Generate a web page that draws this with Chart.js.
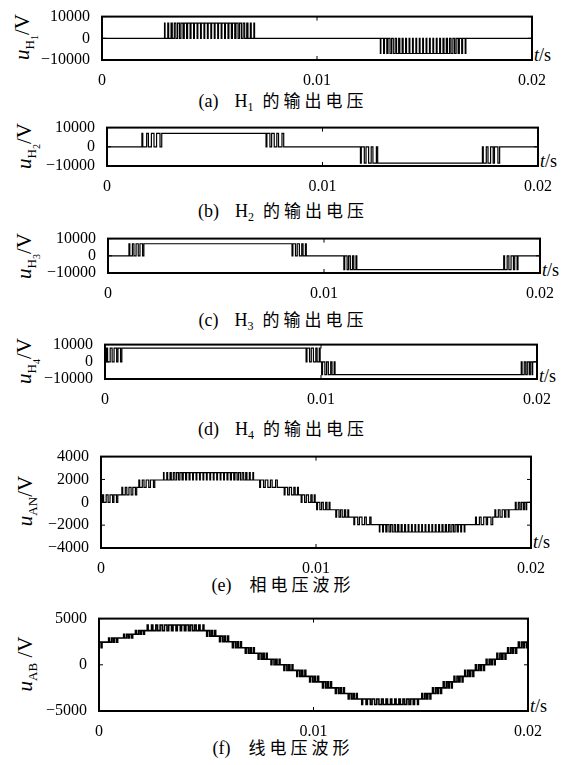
<!DOCTYPE html>
<html>
<head>
<meta charset="utf-8">
<script src="https://cdn.jsdelivr.net/npm/chart.js@4.4.0/dist/chart.umd.min.js"></script>
<style>
  body { margin: 0; background: #fff; }
  #page { position: relative; width: 564px; height: 765px; overflow: hidden; font-family: 'Liberation Serif', 'Times New Roman', Tinos, 'DejaVu Serif', serif; color: #000; }
  #page canvas { position: absolute; left: 0; }
  .ylab { position: absolute; transform: translate(-50%, -50%) rotate(-90deg); white-space: nowrap; font-size: 21px; }
  .ylab sub { font-size: 13px; }
  .ylab sub sub { font-size: 10px; }
  .tlab { position: absolute; font-size: 18px; white-space: nowrap; }
  .cap { position: absolute; left: 0; width: 566px; text-align: center; font-size: 18px; transform: translateY(-50%); white-space: nowrap; }
  .cap .zh { font-family: 'Noto Sans CJK SC', sans-serif; font-size: 17px; letter-spacing: 4px; margin-left: 9px; }
  .cap .h { margin-left: 16px; }
  .cap sub { font-size: 12px; }
</style>
</head>
<body>
<div id="page">
  <div class="ylab" style="left:25px;top:37px"><i>u</i><sub>H<sub>1</sub></sub>/V</div>
  <div class="ylab" style="left:27px;top:146px"><i>u</i><sub>H<sub>2</sub></sub>/V</div>
  <div class="ylab" style="left:27px;top:256px"><i>u</i><sub>H<sub>3</sub></sub>/V</div>
  <div class="ylab" style="left:27px;top:361px"><i>u</i><sub>H<sub>4</sub></sub>/V</div>
  <div class="ylab" style="left:27px;top:501px"><i>u</i><sub>AN</sub>/V</div>
  <div class="ylab" style="left:27px;top:664px"><i>u</i><sub>AB</sub> /V</div>

  <div class="tlab" style="left:534px;top:45px"><i>t</i>/s</div>
  <div class="tlab" style="left:540px;top:151px"><i>t</i>/s</div>
  <div class="tlab" style="left:542px;top:260px"><i>t</i>/s</div>
  <div class="tlab" style="left:539px;top:366px"><i>t</i>/s</div>
  <div class="tlab" style="left:533px;top:532px"><i>t</i>/s</div>
  <div class="tlab" style="left:530px;top:696px"><i>t</i>/s</div>

  <div class="cap" style="top:101px">(a)<span class="h">H<sub>1</sub></span><span class="zh">的输出电压</span></div>
  <div class="cap" style="top:211px">(b)<span class="h">H<sub>2</sub></span><span class="zh">的输出电压</span></div>
  <div class="cap" style="top:320px">(c)<span class="h">H<sub>3</sub></span><span class="zh">的输出电压</span></div>
  <div class="cap" style="top:429px">(d)<span class="h">H<sub>4</sub></span><span class="zh">的输出电压</span></div>
  <div class="cap" style="top:583px">(e)<span class="zh" style="margin-left:18px">相电压波形</span></div>
  <div class="cap" style="top:746px">(f)<span class="zh" style="margin-left:18px">线电压波形</span></div>
</div>
<script>
// time axis (s) and tick labels
const xTicks = [0, 0.01, 0.02];
const xTickLabels = ['0', '0.01', '0.02'];

const hTicks = [-10000, 0, 10000];
const hTickLabels = ['\u221210000', '0', '10000'];
const anTicks = [-4000, -2000, 0, 2000, 4000];
const anTickLabels = ['\u22124000', '\u22122000', '0', '2000', '4000'];
const abTicks = [-5000, 0, 5000];
const abTickLabels = ['\u22125000', '0', '5000'];

// H1 output voltage: switching instants (ms) and levels (V)
const h1Time = [0,
  2.908, 2.932, 3.060, 3.100, 3.212, 3.268, 3.364, 3.436, 3.516, 3.604,
  3.670, 3.769, 3.826, 3.935, 3.982, 4.097, 4.140, 4.260, 4.298, 4.423,
  4.458, 4.583, 4.618, 4.743, 4.778, 4.903, 4.938, 5.063, 5.098, 5.223,
  5.258, 5.383, 5.418, 5.543, 5.578, 5.703, 5.740, 5.860, 5.902, 6.017,
  6.066, 6.175, 6.230, 6.329, 6.396, 6.484, 6.564, 6.636, 6.732, 6.788,
  6.900, 6.940, 7.064, 7.096,
  12.947, 12.971, 13.097, 13.137, 13.247, 13.302, 13.397, 13.468, 13.548, 13.635,
  13.700, 13.798, 13.853, 13.960, 14.008, 14.122, 14.164, 14.283, 14.319, 14.442,
  14.477, 14.600, 14.635, 14.758, 14.793, 14.916, 14.951, 15.074, 15.109, 15.232,
  15.267, 15.390, 15.425, 15.548, 15.586, 15.705, 15.746, 15.860, 15.907, 16.014,
  16.070, 16.168, 16.234, 16.321, 16.399, 16.470, 16.565, 16.620, 16.731, 16.771,
  16.893, 16.925,
  20];
const h1Volt = [0,
  7000, 0, 7000, 0, 7000, 0, 7000, 0, 7000, 0,
  7000, 0, 7000, 0, 7000, 0, 7000, 0, 7000, 0,
  7000, 0, 7000, 0, 7000, 0, 7000, 0, 7000, 0,
  7000, 0, 7000, 0, 7000, 0, 7000, 0, 7000, 0,
  7000, 0, 7000, 0, 7000, 0, 7000, 0, 7000, 0,
  7000, 0, 7000, 0,
  -7000, 0, -7000, 0, -7000, 0, -7000, 0, -7000, 0,
  -7000, 0, -7000, 0, -7000, 0, -7000, 0, -7000, 0,
  -7000, 0, -7000, 0, -7000, 0, -7000, 0, -7000, 0,
  -7000, 0, -7000, 0, -7000, 0, -7000, 0, -7000, 0,
  -7000, 0, -7000, 0, -7000, 0, -7000, 0, -7000, 0,
  -7000, 0,
  0];

// H2
const h2Time = [0,
  1.62, 1.66, 1.84, 1.92, 2.06, 2.18, 2.30, 2.46, 2.54,
  7.38, 7.42, 7.56, 7.64, 7.76, 7.88, 7.96, 8.12, 8.20,
  11.76, 11.80, 11.94, 12.02, 12.14, 12.26, 12.34, 12.50, 12.56,
  17.42, 17.46, 17.60, 17.68, 17.80, 17.92, 17.98, 18.14, 18.22,
  20];
const h2Volt = [0,
  7000, 0, 7000, 0, 7000, 0, 7000, 0, 7000,
  0, 7000, 0, 7000, 0, 7000, 0, 7000, 0,
  -8500, 0, -8500, 0, -8500, 0, -8500, 0, -8500,
  0, -8500, 0, -8500, 0, -8500, 0, -8500, 0,
  0];

// H3
const h3Time = [0,
  0.97, 1.01, 1.13, 1.20, 1.30, 1.40, 1.48, 1.60, 1.66,
  8.52, 8.56, 8.68, 8.76, 8.86, 8.97, 9.03, 9.14, 9.18,
  10.92, 10.96, 11.07, 11.14, 11.22, 11.32, 11.38, 11.48, 11.52,
  18.32, 18.36, 18.48, 18.56, 18.66, 18.77, 18.83, 18.94, 18.98,
  20];
const h3Volt = [0,
  7000, 0, 7000, 0, 7000, 0, 7000, 0, 7000,
  0, 7000, 0, 7000, 0, 7000, 0, 7000, 0,
  -8000, 0, -8000, 0, -8000, 0, -8000, 0, -8000,
  0, -8000, 0, -8000, 0, -8000, 0, -8000, 0,
  0];

// H4
const h4Time = [0,
  0.07, 0.12, 0.24, 0.33, 0.42, 0.54, 0.60, 0.72, 0.78,
  9.31, 9.35, 9.47, 9.55, 9.65, 9.76, 9.82, 9.92, 9.96,
  10.03, 10.07, 10.18, 10.26, 10.34, 10.45, 10.51, 10.61, 10.65,
  19.27, 19.31, 19.41, 19.48, 19.55, 19.64, 19.69, 19.77, 19.80,
  20];
const h4Volt = [0,
  8000, 0, 8000, 0, 8000, 0, 8000, 0, 8000,
  0, 8000, 0, 8000, 0, 8000, 0, 8000, 0,
  -7500, 0, -7500, 0, -7500, 0, -7500, 0, -7500,
  0, -7500, 0, -7500, 0, -7500, 0, -7500, 0,
  0];

// phase voltage u_AN
const anTime = [0,
  0.07, 0.12, 0.24, 0.33, 0.42, 0.54, 0.60, 0.72, 0.78,
  0.97, 1.01, 1.13, 1.20, 1.30, 1.40, 1.48, 1.60, 1.66,
  1.76, 1.80, 1.92, 2.00, 2.10, 2.22, 2.30, 2.44, 2.50,
  2.908, 2.932, 3.060, 3.100, 3.212, 3.268, 3.364, 3.436, 3.516, 3.604,
  3.670, 3.769, 3.826, 3.935, 3.982, 4.097, 4.140, 4.260, 4.298, 4.423,
  4.458, 4.583, 4.618, 4.743, 4.778, 4.903, 4.938, 5.063, 5.098, 5.223,
  5.258, 5.383, 5.418, 5.543, 5.578, 5.703, 5.740, 5.860, 5.902, 6.017,
  6.066, 6.175, 6.230, 6.329, 6.396, 6.484, 6.564, 6.636, 6.732, 6.788,
  6.900, 6.940, 7.064, 7.096,
  7.38, 7.42, 7.56, 7.64, 7.76, 7.88, 7.96, 8.12, 8.20,
  8.52, 8.56, 8.68, 8.76, 8.86, 8.97, 9.03, 9.14, 9.18,
  9.31, 9.35, 9.47, 9.55, 9.65, 9.76, 9.82, 9.92, 9.96,
  10.03, 10.07, 10.18, 10.26, 10.34, 10.45, 10.51, 10.61, 10.65,
  10.92, 10.96, 11.07, 11.14, 11.22, 11.32, 11.38, 11.48, 11.52,
  11.76, 11.80, 11.94, 12.02, 12.14, 12.26, 12.34, 12.50, 12.56,
  12.947, 12.971, 13.097, 13.137, 13.247, 13.302, 13.397, 13.468, 13.548, 13.635,
  13.700, 13.798, 13.853, 13.960, 14.008, 14.122, 14.164, 14.283, 14.319, 14.442,
  14.477, 14.600, 14.635, 14.758, 14.793, 14.916, 14.951, 15.074, 15.109, 15.232,
  15.267, 15.390, 15.425, 15.548, 15.586, 15.705, 15.746, 15.860, 15.907, 16.014,
  16.070, 16.168, 16.234, 16.321, 16.399, 16.470, 16.565, 16.620, 16.731, 16.771,
  16.893, 16.925,
  17.42, 17.46, 17.60, 17.68, 17.80, 17.92, 17.98, 18.14, 18.22,
  18.32, 18.36, 18.48, 18.56, 18.66, 18.77, 18.83, 18.94, 18.98,
  19.27, 19.31, 19.41, 19.48, 19.55, 19.64, 19.69, 19.77, 19.80,
  20];
const anVolt = [0,
  650, 0, 650, 0, 650, 0, 650, 0, 650,
  1300, 650, 1300, 650, 1300, 650, 1300, 650, 1300,
  1950, 1300, 1950, 1300, 1950, 1300, 1950, 1300, 1950,
  2600, 1950, 2600, 1950, 2600, 1950, 2600, 1950, 2600, 1950,
  2600, 1950, 2600, 1950, 2600, 1950, 2600, 1950, 2600, 1950,
  2600, 1950, 2600, 1950, 2600, 1950, 2600, 1950, 2600, 1950,
  2600, 1950, 2600, 1950, 2600, 1950, 2600, 1950, 2600, 1950,
  2600, 1950, 2600, 1950, 2600, 1950, 2600, 1950, 2600, 1950,
  2600, 1950, 2600, 1950,
  1300, 1950, 1300, 1950, 1300, 1950, 1300, 1950, 1300,
  650, 1300, 650, 1300, 650, 1300, 650, 1300, 650,
  0, 650, 0, 650, 0, 650, 0, 650, 0,
  -650, 0, -650, 0, -650, 0, -650, 0, -650,
  -1300, -650, -1300, -650, -1300, -650, -1300, -650, -1300,
  -1950, -1300, -1950, -1300, -1950, -1300, -1950, -1300, -1950,
  -2600, -1950, -2600, -1950, -2600, -1950, -2600, -1950, -2600, -1950,
  -2600, -1950, -2600, -1950, -2600, -1950, -2600, -1950, -2600, -1950,
  -2600, -1950, -2600, -1950, -2600, -1950, -2600, -1950, -2600, -1950,
  -2600, -1950, -2600, -1950, -2600, -1950, -2600, -1950, -2600, -1950,
  -2600, -1950, -2600, -1950, -2600, -1950, -2600, -1950, -2600, -1950,
  -2600, -1950,
  -1300, -1950, -1300, -1950, -1300, -1950, -1300, -1950, -1300,
  -650, -1300, -650, -1300, -650, -1300, -650, -1300, -650,
  0, -650, 0, -650, 0, -650, 0, -650, 0,
  0];

// line voltage u_AB
const abTime = [0,
  0.10, 0.14,
  0.45, 0.49, 0.59, 0.67, 0.73, 0.83, 0.87,
  1.15, 1.19, 1.29, 1.37, 1.43, 1.53, 1.57,
  1.70, 1.74, 1.84, 1.92, 1.98, 2.08, 2.12,
  2.25, 2.29, 2.45, 2.51, 2.65, 2.73, 2.85, 2.95, 3.05, 3.17,
  3.25, 3.38, 3.45, 3.59, 3.65, 3.79, 3.85, 3.98, 4.05, 4.17,
  4.25, 4.35, 4.45, 4.53, 4.65, 4.71, 4.85, 4.89,
  5.02, 5.06, 5.16, 5.24, 5.30, 5.40, 5.44,
  5.62, 5.66, 5.76, 5.84, 5.90, 6.00, 6.04,
  6.22, 6.26, 6.36, 6.44, 6.50, 6.60, 6.64,
  6.82, 6.86, 6.96, 7.04, 7.10, 7.20, 7.24,
  7.42, 7.46, 7.56, 7.64, 7.70, 7.80, 7.84,
  8.02, 8.06, 8.16, 8.24, 8.30, 8.40, 8.44,
  8.62, 8.66, 8.76, 8.84, 8.90, 9.00, 9.04,
  9.22, 9.26, 9.36, 9.44, 9.50, 9.60, 9.64,
  9.82, 9.86, 9.96, 10.04, 10.10, 10.20, 10.24,
  10.42, 10.46, 10.56, 10.64, 10.70, 10.80, 10.84,
  11.02, 11.06, 11.16, 11.24, 11.30, 11.40, 11.44,
  11.62, 11.66, 11.76, 11.84, 11.90, 12.00, 12.04,
  12.25, 12.29, 12.45, 12.51, 12.65, 12.73, 12.85, 12.95, 13.05, 13.17,
  13.25, 13.38, 13.45, 13.59, 13.65, 13.79, 13.85, 13.98, 14.05, 14.17,
  14.25, 14.35, 14.45, 14.53, 14.65, 14.71, 14.85, 14.89,
  15.05, 15.09, 15.19, 15.27, 15.33, 15.43, 15.47,
  15.55, 15.59, 15.69, 15.77, 15.83, 15.93, 15.97,
  16.05, 16.09, 16.19, 16.27, 16.33, 16.43, 16.47,
  16.55, 16.59, 16.69, 16.77, 16.83, 16.93, 16.97,
  17.05, 17.09, 17.19, 17.27, 17.33, 17.43, 17.47,
  17.55, 17.59, 17.69, 17.77, 17.83, 17.93, 17.97,
  18.05, 18.09, 18.19, 18.27, 18.33, 18.43, 18.47,
  18.55, 18.59, 18.69, 18.77, 18.83, 18.93, 18.97,
  19.05, 19.09, 19.19, 19.27, 19.33, 19.43, 19.47,
  19.55, 19.59, 19.69, 19.77, 19.83, 19.93, 19.97,
  20];
const abVolt = [2450,
  1850, 2450,
  2900, 2450, 2900, 2450, 2900, 2450, 2900,
  3300, 2900, 3300, 2900, 3300, 2900, 3300,
  3700, 3300, 3700, 3300, 3700, 3300, 3700,
  4300, 3700, 4300, 3700, 4300, 3700, 4300, 3700, 4300, 3700,
  4300, 3700, 4300, 3700, 4300, 3700, 4300, 3700, 4300, 3700,
  4300, 3700, 4300, 3700, 4300, 3700, 4300, 3700,
  3100, 3700, 3100, 3700, 3100, 3700, 3100,
  2500, 3100, 2500, 3100, 2500, 3100, 2500,
  1850, 2500, 1850, 2500, 1850, 2500, 1850,
  1250, 1850, 1250, 1850, 1250, 1850, 1250,
  600, 1250, 600, 1250, 600, 1250, 600,
  0, 600, 0, 600, 0, 600, 0,
  -600, 0, -600, 0, -600, 0, -600,
  -1250, -600, -1250, -600, -1250, -600, -1250,
  -1850, -1250, -1850, -1250, -1850, -1250, -1850,
  -2500, -1850, -2500, -1850, -2500, -1850, -2500,
  -3100, -2500, -3100, -2500, -3100, -2500, -3100,
  -3700, -3100, -3700, -3100, -3700, -3100, -3700,
  -4300, -3700, -4300, -3700, -4300, -3700, -4300, -3700, -4300, -3700,
  -4300, -3700, -4300, -3700, -4300, -3700, -4300, -3700, -4300, -3700,
  -4300, -3700, -4300, -3700, -4300, -3700, -4300, -3700,
  -3100, -3700, -3100, -3700, -3100, -3700, -3100,
  -2500, -3100, -2500, -3100, -2500, -3100, -2500,
  -1850, -2500, -1850, -2500, -1850, -2500, -1850,
  -1250, -1850, -1250, -1850, -1250, -1850, -1250,
  -600, -1250, -600, -1250, -600, -1250, -600,
  0, -600, 0, -600, 0, -600, 0,
  600, 0, 600, 0, 600, 0, 600,
  1250, 600, 1250, 600, 1250, 600, 1250,
  1850, 1250, 1850, 1250, 1850, 1250, 1850,
  2450, 1850, 2450, 1850, 2450, 1850, 2450,
  2450];

// draws the closed frame and small inward ticks
const frame = {
  id: 'frame',
  afterDraw(chart) {
    const a = chart.chartArea;
    const ctx = chart.ctx;
    const xs = chart.scales.x, ys = chart.scales.y;
    ctx.save();
    ctx.strokeStyle = '#000';
    ctx.lineWidth = 1;
    ctx.beginPath();
    xs.ticks.forEach(t => {
      const px = xs.getPixelForValue(t.value);
      ctx.moveTo(px, a.top); ctx.lineTo(px, a.top + 4);
      ctx.moveTo(px, a.bottom); ctx.lineTo(px, a.bottom - 4);
    });
    ys.ticks.forEach(t => {
      const py = ys.getPixelForValue(t.value);
      ctx.moveTo(a.left, py); ctx.lineTo(a.left + 4, py);
      ctx.moveTo(a.right, py); ctx.lineTo(a.right - 4, py);
    });
    ctx.stroke();
    ctx.lineWidth = 2;
    ctx.strokeRect(a.left, a.top, a.right - a.left, a.bottom - a.top);
    ctx.restore();
  }
};

const tickFont = { family: "'Liberation Serif', 'Times New Roman', Tinos, 'DejaVu Serif', serif", size: 16 };

function makeChart(times, volts, yTicks, yLabels, box, lw) {
  const padTop = 12, axisH = 26;
  const canvas = document.createElement('canvas');
  canvas.width = 564;
  canvas.height = padTop + (box.bottom - box.top) + axisH;
  canvas.style.top = (box.top - padTop) + 'px';
  document.getElementById('page').appendChild(canvas);

  const points = times.map((t, i) => ({ x: t / 1000, y: volts[i] }));

  new Chart(canvas, {
    type: 'line',
    data: {
      datasets: [{
        data: points,
        borderColor: '#000',
        borderWidth: lw,
        pointRadius: 0,
        stepped: true,
        fill: false
      }]
    },
    options: {
      responsive: false,
      animation: false,
      events: [],
      layout: { padding: { top: padTop, right: 564 - box.right, left: 0, bottom: 0 } },
      plugins: { legend: { display: false }, tooltip: { enabled: false } },
      scales: {
        x: {
          type: 'linear',
          min: 0,
          max: 0.02,
          grid: { display: false },
          border: { display: false },
          afterBuildTicks: s => { s.ticks = xTicks.map(v => ({ value: v })); },
          afterFit: s => { s.height = axisH; },
          ticks: {
            autoSkip: false, maxRotation: 0, padding: 3,
            color: '#000', font: tickFont,
            callback: (v, i) => xTickLabels[i]
          }
        },
        y: {
          min: yTicks[0],
          max: yTicks[yTicks.length - 1],
          grid: { display: false },
          border: { display: false },
          afterBuildTicks: s => { s.ticks = yTicks.map(v => ({ value: v })); },
          afterFit: s => { s.width = box.left; },
          ticks: {
            autoSkip: false, padding: 4,
            color: '#000', font: tickFont,
            callback: (v, i) => yLabels[i]
          }
        }
      }
    },
    plugins: [frame]
  });
}

makeChart(h1Time, h1Volt, hTicks, hTickLabels, { left: 102, right: 532, top: 15, bottom: 60 }, 1.2);
makeChart(h2Time, h2Volt, hTicks, hTickLabels, { left: 107, right: 538, top: 126, bottom: 166 }, 1.2);
makeChart(h3Time, h3Volt, hTicks, hTickLabels, { left: 108, right: 540, top: 237, bottom: 273 }, 1.2);
makeChart(h4Time, h4Volt, hTicks, hTickLabels, { left: 105, right: 537, top: 343, bottom: 379 }, 1.2);
makeChart(anTime, anVolt, anTicks, anTickLabels, { left: 101, right: 531, top: 455, bottom: 548 }, 1.2);
makeChart(abTime, abVolt, abTicks, abTickLabels, { left: 99, right: 528, top: 617, bottom: 711 }, 1.6);
</script>
</body>
</html>
